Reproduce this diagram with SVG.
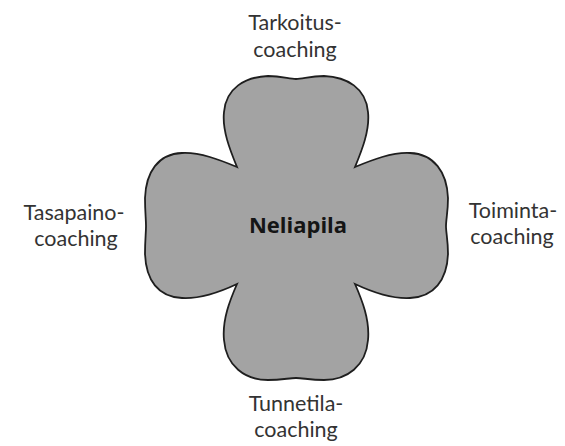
<svg xmlns="http://www.w3.org/2000/svg" width="565" height="446" viewBox="0 0 565 446">
  <style>
    .label { font-family: Lato, "Open Sans", "Liberation Sans", sans-serif; font-size: 21.5px; fill: #333; text-anchor: middle; }
    .center { font-family: "Open Sans", Lato, "Liberation Sans", sans-serif; font-size: 22px; font-weight: bold; fill: #151515; text-anchor: middle; }
    .clover { fill: #a3a3a3; stroke: #1e1e1e; stroke-width: 1.8; stroke-linejoin: miter; }
  </style>
  <rect width="565" height="446" fill="#ffffff"/>
  <g id="neliapila">
    <path class="clover" d="M237,167 C230,150 222,130 224,112 C226,88 245,77 268,76 C282,76 289,79 296,79 C303,79 310,76 324,76 C347,77 366,88 368,112 C370,130 362,150 355,167 C372,160 392,152 410,153 C434,154 447,172 448,198 C448,212 446,219 446,226 C446,233 448,240 448,254 C447,280 434,297 410,298 C392,299 372,292 355,284 C362,300 370,320 368,340 C366,366 347,380 324,380 C310,380 303,378 296,378 C289,378 282,380 268,380 C245,380 226,366 224,340 C222,320 230,300 237,284 C220,292 200,299 182,298 C158,297 146,280 145,254 C145,240 146,233 146,226 C146,219 145,212 145,198 C146,172 158,154 182,153 C200,152 220,160 237,167 Z"/>
    <text class="center" x="298" y="233">Neliapila</text>
  </g>
  <g id="tarkoitus">
    <text class="label" x="295" y="30">Tarkoitus-</text>
    <text class="label" x="295" y="57">coaching</text>
  </g>
  <g id="tasapaino">
    <text class="label" x="74" y="220">Tasapaino-</text>
    <text class="label" x="76" y="246">coaching</text>
  </g>
  <g id="toiminta">
    <text class="label" x="513" y="218">Toiminta-</text>
    <text class="label" x="512" y="244">coaching</text>
  </g>
  <g id="tunnetila">
    <text class="label" x="296" y="411">Tunnetila-</text>
    <text class="label" x="296" y="437">coaching</text>
  </g>
</svg>
